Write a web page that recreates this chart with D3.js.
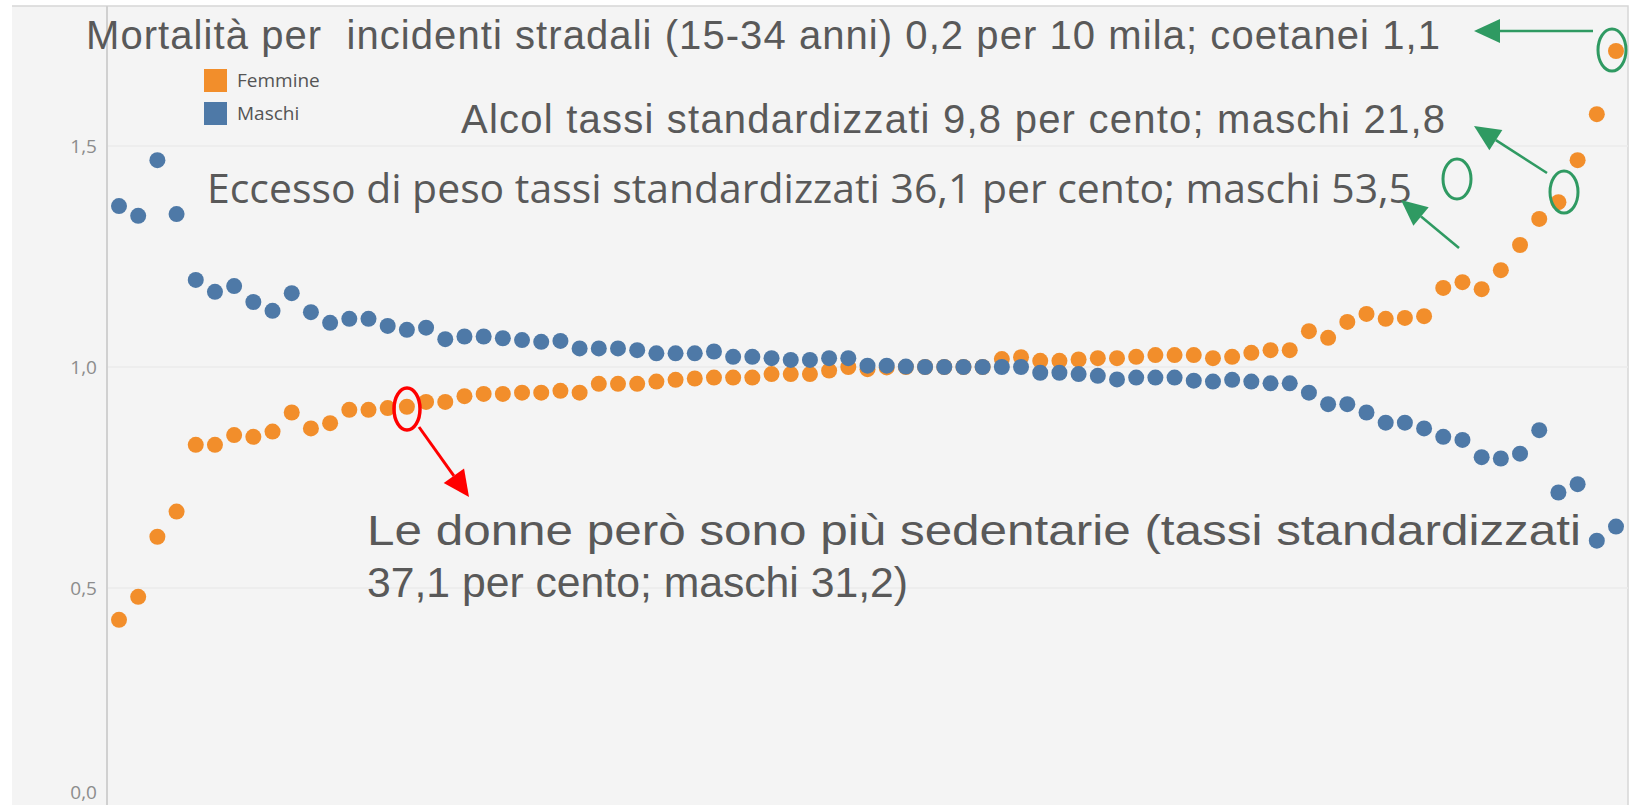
<!DOCTYPE html>
<html>
<head>
<meta charset="utf-8">
<script src="https://cdn.jsdelivr.net/npm/d3@7"></script>
<style>
  body { margin: 0; background: #ffffff; }
  svg { display: block; }
</style>
</head>
<body>
<div id="chart"></div>
<script>
// data: index ratio women / men, one point per position
var femmine = [0.428,0.480,0.616,0.673,0.824,0.824,0.846,0.842,0.854,0.897,0.861,0.873,0.903,0.903,0.907,0.910,
  0.921,0.921,0.934,0.939,0.939,0.942,0.942,0.946,0.942,0.962,0.962,0.962,0.967,0.971,0.974,0.976,0.976,0.976,0.984,0.984,0.984,
  0.992,1.000,0.995,0.999,1.000,1.000,1.000,1.000,1.000,1.018,1.022,1.014,1.014,1.017,1.020,1.020,1.023,1.027,1.027,1.027,
  1.020,1.023,1.032,1.038,1.038,1.081,1.066,1.102,1.120,1.109,1.111,1.115,1.179,1.192,1.176,1.219,1.276,1.335,1.373,1.468,1.572,1.715]
var maschi = [1.364,1.342,1.468,1.346,1.197,1.170,1.183,1.147,1.127,1.167,1.124,1.100,1.109,1.109,1.093,1.084,
  1.089,1.063,1.069,1.069,1.065,1.061,1.057,1.059,1.042,1.042,1.042,1.038,1.031,1.031,1.031,1.035,1.023,1.023,1.020,1.016,1.016,
  1.020,1.020,1.003,1.003,1.001,1.000,1.000,1.000,1.000,1.000,1.000,0.987,0.987,0.984,0.980,0.972,0.976,0.976,0.976,0.969,
  0.967,0.971,0.967,0.963,0.963,0.942,0.916,0.916,0.897,0.874,0.874,0.861,0.842,0.835,0.796,0.793,0.804,0.857,0.716,0.735,0.607,0.639]
var series_names = ["Femmine", "Maschi"]
var series_colors = ["#f28e2b", "#4e79a7"]
var y_ticks = [0, 0.5, 1.0, 1.5]

var width = 1636;
var height = 805;

var svg = d3.select("#chart")
  .append("svg")
  .attr("width", width)
  .attr("height", height)

//panel background, border only on top and right
svg.append("rect")
  .attr("x", 12).attr("y", 6)
  .attr("width", 1616).attr("height", 820)
  .style("fill", "#f4f4f4")
svg.append("path")
  .attr("d", "M12,6H1628V" + height)
  .style("fill", "none")
  .style("stroke", "#d6d6d6")
  .style("stroke-width", 1.5)

//scales
var x = d3.scaleLinear().domain([0, femmine.length-1]).range([119, 1616])
var y = d3.scaleLinear().domain([0, 1.5]).range([809, 146])

//gridlines
svg.append("g")
  .selectAll("line")
  .data(y_ticks).enter()
  .append("line")
  .attr("x1", 107).attr("x2", 1628)
  .attr("y1", function(d){return y(d);})
  .attr("y2", function(d){return y(d);})
  .style("stroke", "#ebebeb")
  .style("stroke-width", 1.5)

//y axis
var fmt = function(d){ return d3.format(".1f")(d).replace(".", ","); }
var y_axis = svg.append("g")
  .attr("transform", "translate(107,0)")
  .call(d3.axisLeft(y).tickValues(y_ticks).tickFormat(fmt).tickSize(0).tickPadding(10))
y_axis.select(".domain").remove()
y_axis.selectAll("text")
  .style("font-family", "'Open Sans', sans-serif")
  .style("font-size", "19px")
  .style("fill", "#8c8c8c")
//0,0 label sits higher, the panel is cut at the bottom
y_axis.selectAll(".tick")
  .filter(function(d){return d == 0;})
  .select("text").attr("dy", "-0.55em")
svg.append("line")
  .attr("x1", 107).attr("x2", 107)
  .attr("y1", 6).attr("y2", height)
  .style("stroke", "#d0d0d0")
  .style("stroke-width", 2)

//dots: women first, men drawn on top
var all_series = [femmine, maschi]
all_series.forEach(function(vals, k){
  svg.append("g")
    .selectAll("circle")
    .data(vals).enter()
    .append("circle")
    .attr("cx", function(d, i){return x(i);})
    .attr("cy", function(d){return y(d);})
    .attr("r", 8)
    .style("fill", series_colors[k])
})

//legend
var legend = svg.append("g").attr("transform", "translate(204,69)")
legend.selectAll("rect")
  .data(series_names).enter()
  .append("rect")
  .attr("x", 0).attr("y", function(d, i){return i*33;})
  .attr("width", 23).attr("height", 23)
  .style("fill", function(d, i){return series_colors[i];})
legend.selectAll("text")
  .data(series_names).enter()
  .append("text")
  .attr("x", 33).attr("y", function(d, i){return i*33+18;})
  .text(function(d){return d;})
  .style("font-family", "'Open Sans', sans-serif")
  .style("font-size", "19px")
  .style("fill", "#555555")

//annotation texts (w = width measured in the picture)
var notes = [
  {t: "Mortalità per  incidenti stradali (15-34 anni) 0,2 per 10 mila; coetanei 1,1", x: 86, y: 49, w: 1354, fs: 40, f: "'Liberation Sans', Arial, sans-serif", adj: "spacing"},
  {t: "Alcol tassi standardizzati 9,8 per cento; maschi 21,8", x: 461, y: 133, w: 984, fs: 40, f: "'Liberation Sans', Arial, sans-serif", adj: "spacing"},
  {t: "Eccesso di peso tassi standardizzati 36,1 per cento; maschi 53,5", x: 207, y: 203, w: 1205, fs: 40, f: "'Open Sans', sans-serif", adj: "spacingAndGlyphs"},
  {t: "Le donne però sono più sedentarie (tassi standardizzati", x: 367, y: 545, w: 1214, fs: 43, f: "'Liberation Sans', Arial, sans-serif", adj: "spacingAndGlyphs"},
  {t: "37,1 per cento; maschi 31,2)", x: 367, y: 597, w: 541, fs: 43, f: "'Liberation Sans', Arial, sans-serif", adj: "spacingAndGlyphs"}
]
svg.append("g")
  .selectAll("text")
  .data(notes).enter()
  .append("text")
  .attr("x", function(d){return d.x;})
  .attr("y", function(d){return d.y;})
  .attr("textLength", function(d){return d.w;})
  .attr("lengthAdjust", function(d){return d.adj;})
  .style("white-space", "pre")
  .style("font-family", function(d){return d.f;})
  .style("font-size", function(d){return d.fs+"px";})
  .style("fill", "#595959")
  .text(function(d){return d.t;})

//arrow = line + filled triangle at the tip
draw_arrow = function(x1, y1, x2, y2, color, sw, head_len, head_w){
  var a = Math.atan2(y2-y1, x2-x1)
  var bx = x2 - head_len*Math.cos(a), by = y2 - head_len*Math.sin(a)
  var px = Math.sin(a)*head_w/2, py = -Math.cos(a)*head_w/2
  svg.append("line")
    .attr("x1", x1).attr("y1", y1).attr("x2", bx).attr("y2", by)
    .style("stroke", color).style("stroke-width", sw)
  svg.append("path")
    .attr("d", "M"+x2+","+y2+"L"+(bx+px)+","+(by+py)+"L"+(bx-px)+","+(by-py)+"Z")
    .style("fill", color)
}
draw_ring = function(cx, cy, rx, ry, color, sw){
  svg.append("ellipse")
    .attr("cx", cx).attr("cy", cy).attr("rx", rx).attr("ry", ry)
    .style("fill", "none").style("stroke", color).style("stroke-width", sw)
}

var green = "#2f9a62"
draw_ring(1612, 50, 14, 21, green, 3)
draw_ring(1564, 192, 14, 21, green, 3)
draw_ring(1457, 179, 14, 20, green, 3)
draw_arrow(1593, 31, 1474, 31, green, 2.5, 26, 24)
draw_arrow(1547, 173, 1474, 126, green, 2.5, 26, 24)
draw_arrow(1459, 248, 1401, 200, green, 2.5, 26, 24)

var red = "#ff0000"
draw_ring(407, 409, 13, 21, red, 3.5)
draw_arrow(419, 427, 469, 497, red, 3, 26, 25)
</script>
</body>
</html>
